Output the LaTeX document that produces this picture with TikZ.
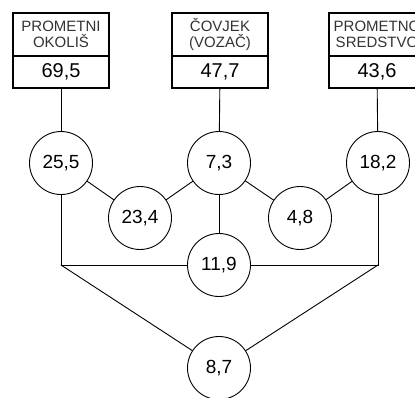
\documentclass[tikz,border=0pt]{standalone}
\usepackage{fontspec}
\setmainfont{Liberation Sans}

\begin{document}
\begin{tikzpicture}
		[x=1pt,y=-1pt,line cap=round,
		%Styles
		title box/.style={draw,line width=1.4pt,minimum width=96pt,minimum height=43pt,inner sep=0pt,align=center,text=black!80,font=\fontsize{15}{16}\selectfont},
		value box/.style={draw,line width=1.4pt,minimum width=96pt,minimum height=32pt,inner sep=0pt,font=\fontsize{20}{22}\selectfont},
		factor node/.style={circle,draw,fill=white,line width=0.9pt,minimum size=63pt,inner sep=0pt,font=\fontsize{19}{21}\selectfont},
		link/.style={line width=0.9pt}
		]
		
		\useasboundingbox (0,0) rectangle (415,397);
		\clip (0,0) rectangle (415,397);
		
		%Boxes on top
		\node[title box] (okolis) at (61,34.5) {PROMETNI\\OKOLIŠ};
		\node[value box] (okolisval) at (61,72) {69,5};
		\node[title box] (covjek) at (220,34.5) {ČOVJEK\\(VOZAČ)};
		\node[value box] (covjekval) at (220,72) {47,7};
		\node[title box] (sredstvo) at (377,34.5) {PROMETNO\\SREDSTVO};
		\node[value box] (sredstvoval) at (377,72) {43,6};
		
		%Circles
		\node[factor node] (f255) at (61,163) {25,5};
		\node[factor node] (f73) at (219,163) {7,3};
		\node[factor node] (f182) at (378,163) {18,2};
		\node[factor node] (f234) at (140,218) {23,4};
		\node[factor node] (f48) at (300,218) {4,8};
		\node[factor node] (f119) at (219,265) {11,9};
		\node[factor node] (f87) at (219,368) {8,7};
		
		\coordinate (lk) at (61,265);
		\coordinate (rk) at (378,265);
		
		%The graphic
		\draw[link] (okolisval) -- (f255);
		\draw[link] (covjekval) -- (f73);
		\draw[link] (sredstvoval) -- (f182);
		\draw[link] (f255) -- (f234) -- (f73) -- (f48) -- (f182);
		\draw[link] (f73) -- (f119);
		\draw[link] (f255) -- (lk) -- (f119);
		\draw[link] (f182) -- (rk) -- (f119);
		\draw[link] (lk) -- (f87);
		\draw[link] (rk) -- (f87);
	\end{tikzpicture}
\end{document}
